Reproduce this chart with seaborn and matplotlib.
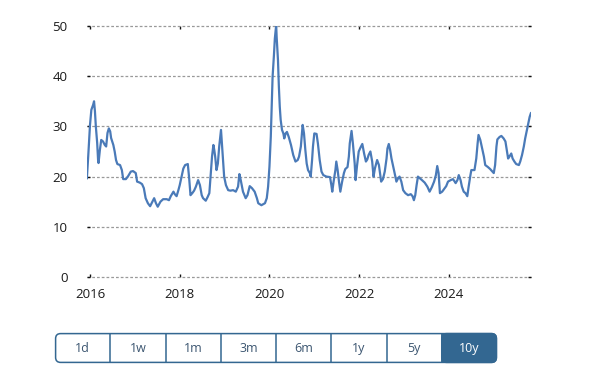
import numpy as np
import pandas as pd
import matplotlib
matplotlib.use("Agg")
import matplotlib.pyplot as plt
from matplotlib.patches import FancyBboxPatch, Rectangle
import seaborn as sns

# ---- data (decimal year, value) ----
years = [2015.93, 2015.94, 2015.96, 2015.98, 2016.00, 2016.03, 2016.07, 2016.09, 2016.11, 2016.13,
         2016.16, 2016.18, 2016.19, 2016.22, 2016.25, 2016.29, 2016.33, 2016.36, 2016.39, 2016.42,
         2016.45, 2016.47, 2016.52, 2016.55, 2016.58, 2016.61, 2016.67, 2016.71, 2016.74, 2016.80,
         2016.85, 2016.91, 2016.96, 2017.02, 2017.05, 2017.11, 2017.16, 2017.20, 2017.24, 2017.29,
         2017.34, 2017.39, 2017.43, 2017.47, 2017.51, 2017.57, 2017.63, 2017.71, 2017.76, 2017.80,
         2017.86, 2017.89, 2017.93, 2017.97, 2018.00, 2018.04, 2018.08, 2018.12, 2018.18, 2018.21,
         2018.24, 2018.28, 2018.32, 2018.36, 2018.41, 2018.45, 2018.49, 2018.52, 2018.58, 2018.62,
         2018.66, 2018.69, 2018.72, 2018.75, 2018.77, 2018.79, 2018.82, 2018.85, 2018.88, 2018.90,
         2018.92, 2018.94, 2018.97, 2018.99, 2019.03, 2019.08, 2019.13, 2019.19, 2019.25, 2019.30,
         2019.33, 2019.36, 2019.41, 2019.47, 2019.51, 2019.56, 2019.61, 2019.67, 2019.72, 2019.75,
         2019.82, 2019.90, 2019.94, 2019.97, 2020.00, 2020.03, 2020.05, 2020.07, 2020.10, 2020.12,
         2020.15, 2020.16, 2020.19, 2020.21, 2020.23, 2020.25, 2020.28, 2020.31, 2020.33, 2020.36,
         2020.39, 2020.43, 2020.48, 2020.53, 2020.58, 2020.63, 2020.66, 2020.70, 2020.74, 2020.77,
         2020.80, 2020.83, 2020.86, 2020.90, 2020.92, 2020.95, 2020.97, 2021.00, 2021.05, 2021.08,
         2021.12, 2021.16, 2021.20, 2021.27, 2021.35, 2021.38, 2021.40, 2021.43, 2021.47, 2021.49,
         2021.52, 2021.55, 2021.58, 2021.62, 2021.66, 2021.69, 2021.74, 2021.77, 2021.79, 2021.83,
         2021.86, 2021.90, 2021.92, 2021.95, 2021.99, 2022.03, 2022.07, 2022.11, 2022.15, 2022.18,
         2022.21, 2022.25, 2022.29, 2022.32, 2022.35, 2022.40, 2022.44, 2022.46, 2022.49, 2022.53,
         2022.57, 2022.61, 2022.63, 2022.66, 2022.69, 2022.72, 2022.76, 2022.79, 2022.83, 2022.87,
         2022.90, 2022.94, 2022.98, 2023.03, 2023.09, 2023.15, 2023.19, 2023.22, 2023.25, 2023.28,
         2023.31, 2023.35, 2023.40, 2023.46, 2023.52, 2023.57, 2023.62, 2023.67, 2023.71, 2023.74,
         2023.77, 2023.80, 2023.85, 2023.89, 2023.94, 2023.98, 2024.04, 2024.09, 2024.13, 2024.15,
         2024.19, 2024.22, 2024.26, 2024.29, 2024.33, 2024.37, 2024.41, 2024.44, 2024.48, 2024.50,
         2024.57, 2024.61, 2024.64, 2024.66, 2024.70, 2024.74, 2024.78, 2024.81, 2024.87, 2024.92,
         2024.97, 2025.00, 2025.03, 2025.06, 2025.08, 2025.13, 2025.17, 2025.22, 2025.26, 2025.29,
         2025.32, 2025.35, 2025.39, 2025.42, 2025.46, 2025.50, 2025.56, 2025.59, 2025.63, 2025.67,
         2025.70, 2025.74, 2025.77, 2025.80, 2025.83]
values = [19.6, 21.0, 24.0, 27.3, 30.3, 33.3, 34.3, 35.0, 33.0, 30.0,
          26.7, 23.3, 22.7, 25.3, 27.3, 27.0, 26.3, 26.0, 28.7, 29.6,
          29.0, 27.7, 26.3, 25.0, 23.3, 22.5, 22.3, 21.3, 19.5, 19.5,
          20.1, 21.0, 21.1, 20.7, 19.0, 18.8, 18.5, 17.7, 15.7, 14.7,
          14.1, 15.0, 15.7, 14.7, 14.0, 15.0, 15.5, 15.5, 15.3, 16.1,
          17.0, 16.5, 16.1, 17.3, 18.3, 20.0, 21.6, 22.3, 22.5, 19.7,
          16.3, 16.7, 17.2, 18.0, 19.3, 18.3, 16.3, 15.7, 15.2, 15.9,
          16.7, 20.3, 24.0, 26.3, 25.3, 24.0, 21.3, 22.6, 26.0, 27.6,
          29.3, 26.6, 22.3, 20.0, 18.3, 17.3, 17.2, 17.3, 17.0, 18.0,
          20.5, 19.3, 17.0, 15.7, 16.3, 18.1, 17.7, 17.0, 15.7, 14.7,
          14.3, 14.7, 15.7, 18.0, 22.0, 28.0, 33.9, 39.9, 44.2, 47.5,
          50.2, 47.9, 43.2, 37.9, 33.9, 31.3, 29.3, 28.6, 27.6, 28.6,
          28.9, 27.9, 26.3, 24.3, 23.0, 23.3, 24.0, 26.0, 30.3, 28.6,
          25.3, 22.6, 21.3, 20.7, 20.0, 23.3, 26.0, 28.6, 28.5, 26.6,
          23.3, 21.0, 20.3, 20.0, 19.9, 18.3, 17.0, 19.0, 21.3, 23.0,
          21.3, 19.0, 17.0, 19.0, 20.7, 21.5, 21.9, 24.0, 26.6, 29.1,
          26.6, 22.6, 19.3, 22.0, 25.0, 25.8, 26.5, 24.6, 23.0, 23.4,
          24.3, 25.0, 23.0, 20.0, 21.6, 23.3, 22.3, 21.0, 19.0, 19.5,
          21.0, 23.6, 25.6, 26.5, 25.3, 23.6, 22.0, 20.7, 19.0, 19.7,
          20.0, 19.0, 17.3, 16.7, 16.3, 16.5, 16.1, 15.3, 16.3, 18.3,
          20.0, 19.7, 19.3, 18.8, 18.0, 17.0, 17.9, 19.0, 20.3, 22.1,
          20.7, 16.7, 17.0, 17.5, 18.1, 19.0, 19.3, 19.5, 19.0, 18.7,
          19.3, 20.3, 19.3, 18.0, 17.0, 16.7, 16.1, 18.0, 20.3, 21.3,
          21.3, 23.6, 26.6, 28.3, 27.3, 25.6, 24.0, 22.3, 21.9, 21.5,
          21.0, 20.7, 22.3, 26.0, 27.4, 27.9, 28.1, 27.6, 27.0, 25.3,
          23.6, 24.0, 24.6, 23.6, 23.0, 22.5, 22.3, 23.0, 24.3, 26.0,
          27.6, 29.3, 30.6, 31.9, 32.7]

x_ticks = [2016, 2018, 2020, 2022, 2024]
y_ticks = [0, 10, 20, 30, 40, 50]
buttons = ["1d", "1w", "1m", "3m", "6m", "1y", "5y", "10y"]
selected = "10y"

df = pd.DataFrame({"year": years, "value": values})

sns.set_theme(style="white")
plt.rcParams["font.family"] = ["Open Sans", "DejaVu Sans"]

W, H = 612, 387
fig = plt.figure(figsize=(W / 100, H / 100), dpi=100)
fig.patch.set_facecolor("white")

# main axes: x 87..531 px, y 26..277 px
ax = fig.add_axes([87 / W, (H - 277) / H, 444 / W, 251 / H])
sns.lineplot(data=df, x="year", y="value", ax=ax, color="#4a7ab8", linewidth=1.6)

ax.set_xlim(2015.933, 2025.83)
ax.set_ylim(0, 50)
ax.set_xticks(x_ticks)
ax.set_xticklabels([str(t) for t in x_ticks])
ax.set_yticks(y_ticks)
ax.set_yticklabels([str(t) for t in y_ticks])
ax.set_xlabel("")
ax.set_ylabel("")
for s in ax.spines.values():
    s.set_visible(False)
ax.grid(axis="y", color="#999999", linestyle=(0, (2.2, 1.6)), linewidth=0.9)
ax.grid(axis="x", visible=False)
for gl in ax.get_ygridlines():
    gl.set_clip_on(False)
ax.tick_params(axis="both", which="both", direction="in", length=2, width=1, color="#111111",
               labelsize=9.5, labelcolor="#1a1a1a")
ax.tick_params(axis="y", pad=14, left=True, right=True)
ax.tick_params(axis="x", pad=8, bottom=True, top=True)
ax.set_axisbelow(True)

# ---- range buttons ----
bx = fig.add_axes([55 / W, (H - 363) / H, 442 / W, 30 / H])
bx.set_xlim(0, 442)
bx.set_ylim(0, 30)
bx.axis("off")
edge = "#336791"
n = len(buttons)
bw = 442 / n
outer = FancyBboxPatch((0.6, 0.6), 440.8, 28.8, boxstyle="round,pad=0,rounding_size=5",
                       facecolor="white", edgecolor=edge, linewidth=1.1, clip_on=False)
bx.add_patch(outer)
for i, lab in enumerate(buttons):
    x0 = i * bw
    if lab == selected:
        sel = FancyBboxPatch((x0, 0.6), 441.4 - x0, 28.8, boxstyle="round,pad=0,rounding_size=5",
                             facecolor=edge, edgecolor=edge, linewidth=1.1, clip_on=False)
        bx.add_patch(sel)
        bx.add_patch(Rectangle((x0, 0.6), 8, 28.8, facecolor=edge, edgecolor=edge, linewidth=1.1,
                               clip_on=False))
        col = "white"
    else:
        col = "#3b5570"
    if i > 0:
        bx.plot([x0, x0], [0.6, 29.4], color=edge, linewidth=1.1, solid_capstyle="butt")
    bx.text(x0 + bw / 2, 14.5, lab, ha="center", va="center", fontsize=9, color=col)

fig.savefig("out.png", dpi=100, facecolor="white")
